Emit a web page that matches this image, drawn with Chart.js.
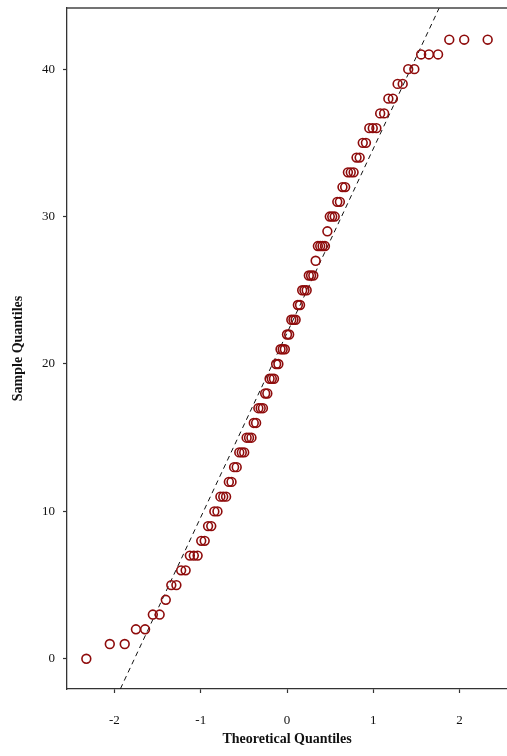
<!DOCTYPE html>
<html><head><meta charset="utf-8">
<script src="https://cdn.jsdelivr.net/npm/chart.js@4/dist/chart.umd.min.js"></script>
<style>html,body{margin:0;padding:0;background:#fff;}</style>
</head><body>
<canvas id="c" width="507" height="756"></canvas>
<script>
// Theoretical (normal) quantiles read along the x axis
const theoreticalQuantiles = [
-2.326,-2.054,-1.881,-1.751,-1.645,-1.555,-1.476,-1.405,-1.341,-1.282,
-1.227,-1.175,-1.126,-1.080,-1.036,-0.994,-0.954,-0.915,-0.878,-0.842,
-0.806,-0.772,-0.739,-0.706,-0.674,-0.643,-0.613,-0.583,-0.553,-0.524,
-0.496,-0.468,-0.440,-0.412,-0.385,-0.358,-0.332,-0.305,-0.279,-0.253,
-0.228,-0.202,-0.176,-0.151,-0.126,-0.100,-0.075,-0.050,-0.025,0.000,
0.025,0.050,0.075,0.100,0.126,0.151,0.176,0.202,0.228,0.253,
0.279,0.305,0.332,0.358,0.385,0.412,0.440,0.468,0.496,0.524,
0.553,0.583,0.613,0.643,0.674,0.706,0.739,0.772,0.806,0.842,
0.878,0.915,0.954,0.994,1.036,1.080,1.126,1.175,1.227,1.282,
1.341,1.405,1.476,1.555,1.645,1.751,1.881,2.054,2.326];

// Sample quantiles (sorted observations)
const sampleQuantiles = [
0,1,1,2,2,3,3,4,5,5,
6,6,7,7,7,8,8,9,9,10,
10,11,11,11,12,12,13,13,14,14,
14,15,15,15,16,16,17,17,17,18,
18,19,19,19,20,20,21,21,21,22,
22,23,23,23,24,24,25,25,25,26,
26,26,27,28,28,28,28,29,30,30,
30,31,31,32,32,33,33,33,34,34,
35,35,36,36,36,37,37,38,38,39,
39,40,40,41,41,41,42,42,42];

const xTickValues = [-2,-1,0,1,2];
const yTickValues = [0,10,20,30,40];
const xRange = [-2.55, 2.55];
const yRange = [-2.05, 44.15];
const refLineIntercept = 22.1;
const refLineSlope = 12.5;

const points = theoreticalQuantiles.map((x,i)=>({x:x, y:sampleQuantiles[i]}));
const refLine = xRange.map(x=>({x:x, y:refLineIntercept + refLineSlope*x}));

const topBorder = {
  id:'topBorder',
  afterDraw(chart){
    const {ctx, chartArea:a} = chart;
    ctx.save();
    ctx.strokeStyle='#444'; ctx.lineWidth=1.3;
    ctx.beginPath(); ctx.moveTo(a.left, a.top); ctx.lineTo(a.right, a.top); ctx.stroke();
    ctx.restore();
  }
};

function zeroPad(s){ s.paddingTop=0; s.paddingBottom=0; s.paddingLeft=0; s.paddingRight=0; }

const tickFont = {family:'Liberation Serif', size:13};
const titleFont = {family:'Liberation Serif', size:14, weight:'bold'};

new Chart(document.getElementById('c'), {
  type:'scatter',
  data:{datasets:[
    {label:'ref', type:'line', data:refLine, borderColor:'#111', borderWidth:1,
     borderDash:[5,4], pointRadius:0, fill:false, order:2},
    {label:'qq', data:points, pointStyle:'circle', pointRadius:4.4, pointHoverRadius:4.4,
     borderColor:'#8e0b0b', backgroundColor:'rgba(0,0,0,0)', pointBorderWidth:1.6, borderWidth:1.6, order:1}
  ]},
  options:{
    responsive:false, animation:false, devicePixelRatio:1,
    layout:{autoPadding:false, padding:{top:8,right:0,left:0,bottom:0}},
    plugins:{legend:{display:false}, tooltip:{enabled:false}},
    scales:{
      x:{type:'linear', position:'bottom', min:xRange[0], max:xRange[1],
         afterBuildTicks:s=>{s.ticks = xTickValues.map(v=>({value:v}));},
         afterFit:s=>{s.height=67; zeroPad(s);},
         grid:{display:true, drawOnChartArea:false, drawTicks:true, tickLength:4, tickColor:'#333', tickWidth:1.2},
         border:{display:true, color:'#333', width:1.3},
         ticks:{padding:20, font:tickFont, color:'#111', callback:v=>String(v)},
         title:{display:true, text:'Theoretical Quantiles', font:titleFont, color:'#111', padding:{top:0,bottom:8}}
      },
      y:{type:'linear', position:'left', min:yRange[0], max:yRange[1],
         afterBuildTicks:s=>{s.ticks = yTickValues.map(v=>({value:v}));},
         afterFit:s=>{s.width=67; zeroPad(s);},
         grid:{display:true, drawOnChartArea:false, drawTicks:true, tickLength:4, tickColor:'#333', tickWidth:1.2},
         border:{display:true, color:'#333', width:1.3},
         ticks:{padding:8, font:tickFont, color:'#111', callback:v=>String(v)},
         title:{display:true, text:'Sample Quantiles', font:titleFont, color:'#111', padding:{top:10,bottom:0}}
      }
    }
  },
  plugins:[topBorder]
});
</script>
</body></html>
